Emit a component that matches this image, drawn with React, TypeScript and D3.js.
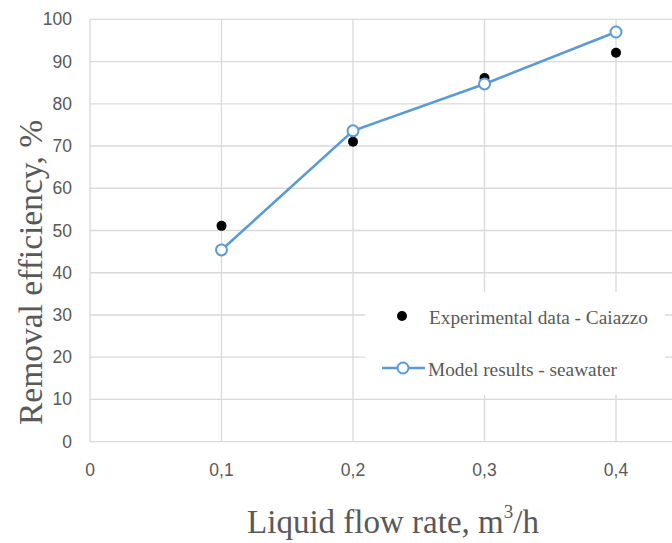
import React from "react";
import * as d3 from "d3";

const xValues = [0.1, 0.2, 0.3, 0.4];
const experimental = [51.1, 71.0, 86.1, 92.1];
const model = [45.4, 73.6, 84.7, 97.0];
const yTicks = [0, 10, 20, 30, 40, 50, 60, 70, 80, 90, 100];
const xTicks = [0, 0.1, 0.2, 0.3, 0.4];
const xTickLabels = ["0", "0,1", "0,2", "0,3", "0,4"];
const legendLabels = ["Experimental data - Caiazzo", "Model results - seawater"];

const W = 672;
const H = 543;
const left = 90;
const top = 19.3;
const bottom = 441.7;
const right = 672;

export default function App() {
  const x = d3.scaleLinear().domain([0, 0.1]).range([left, left + 131.5]);
  const y = d3.scaleLinear().domain([0, 100]).range([bottom, top]);
  const line = d3
    .line<number>()
    .x((_, i) => x(xValues[i]))
    .y((d) => y(d));
  const grid = "#d9d9d9";
  const textColor = "#595959";
  const blue = "#5b9bd5";
  const tickFont = "'Liberation Sans', Arial, sans-serif";
  const serif = "'Liberation Serif', 'Times New Roman', serif";
  return (
    <svg
      width={W}
      height={H}
      style={{ position: "absolute", left: 0, top: 0, background: "#fff" }}
    >
      {yTicks.map((t) => (
        <line key={"h" + t} x1={left} x2={right} y1={y(t)} y2={y(t)} stroke={grid} strokeWidth={1.3} />
      ))}
      {xTicks.map((t) => (
        <line key={"v" + t} x1={x(t)} x2={x(t)} y1={top} y2={bottom} stroke={grid} strokeWidth={1.3} />
      ))}
      {yTicks.map((t) => (
        <text
          key={"yl" + t}
          x={72}
          y={y(t)}
          textAnchor="end"
          dominantBaseline="central"
          fontFamily={tickFont}
          fontSize={17.5}
          fill={textColor}
        >
          {t}
        </text>
      ))}
      {xTicks.map((t, i) => (
        <text
          key={"xl" + t}
          x={x(t)}
          y={470}
          textAnchor="middle"
          dominantBaseline="central"
          fontFamily={tickFont}
          fontSize={17.5}
          fill={textColor}
        >
          {xTickLabels[i]}
        </text>
      ))}
      <path d={line(model) || ""} fill="none" stroke={blue} strokeWidth={2.6} />
      {experimental.map((v, i) => (
        <circle key={"e" + i} cx={x(xValues[i])} cy={y(v)} r={5} fill="#000" />
      ))}
      {model.map((v, i) => (
        <circle key={"m" + i} cx={x(xValues[i])} cy={y(v)} r={5.5} fill="#fff" stroke={blue} strokeWidth={2} />
      ))}
      <rect x={365} y={292} width={300} height={103} fill="#fff" />
      <circle cx={402} cy={316} r={5} fill="#000" />
      <text x={429} y={317} dominantBaseline="central" fontFamily={serif} fontSize={19.3} fill={textColor}>
        {legendLabels[0]}
      </text>
      <line x1={382} x2={425} y1={368} y2={368} stroke={blue} strokeWidth={2.6} />
      <circle cx={403} cy={368} r={5.5} fill="#fff" stroke={blue} strokeWidth={2} />
      <text x={428} y={369} dominantBaseline="central" fontFamily={serif} fontSize={19.3} fill={textColor}>
        {legendLabels[1]}
      </text>
      <text
        x={393}
        y={522}
        textAnchor="middle"
        dominantBaseline="central"
        fontFamily={serif}
        fontSize={33}
        fill={textColor}
      >
        Liquid flow rate, m<tspan dy={-11} fontSize={19}>3</tspan>
        <tspan dy={11}>/h</tspan>
      </text>
      <text
        transform={`translate(30, ${272.5}) rotate(-90)`}
        textAnchor="middle"
        dominantBaseline="central"
        fontFamily={serif}
        fontSize={33.5}
        fill={textColor}
      >
        Removal efficiency, %
      </text>
    </svg>
  );
}
